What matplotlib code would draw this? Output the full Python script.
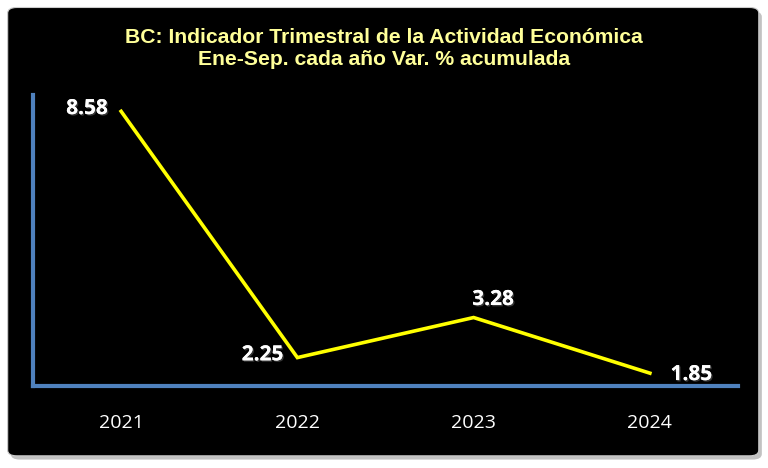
import matplotlib.pyplot as plt
import matplotlib.patheffects as pe
from matplotlib.patches import FancyBboxPatch

# -----------------------------
# Data
# -----------------------------
years = ["2021", "2022", "2023", "2024"]
values = [8.58, 2.25, 3.28, 1.85]
label_offsets = [(-24.5, 2), (-25, 2), (14, 13), (30, -1)]  # points, per label

title = "BC: Indicador Trimestral de la Actividad Económica\nEne-Sep. cada año Var. % acumulada"

# -----------------------------
# Figure + black panel
# -----------------------------
fig = plt.figure(figsize=(7.68, 4.68), dpi=100)
fig.patch.set_facecolor("white")

shadow = FancyBboxPatch((0.014, 0.018), 0.978, 0.958,
                        boxstyle="round,pad=0,rounding_size=0.012",
                        transform=fig.transFigure, facecolor="#9a9a9a",
                        edgecolor="none", alpha=0.6, zorder=0)
panel = FancyBboxPatch((0.010, 0.026), 0.978, 0.958,
                       boxstyle="round,pad=0,rounding_size=0.012",
                       transform=fig.transFigure, facecolor="black",
                       edgecolor="#cccccc", linewidth=0.8, zorder=1)
fig.patches.extend([shadow, panel])

fig.text(0.5, 0.897, title, ha="center", va="center", color="#FFFF99",
         fontsize=15.2, fontweight="bold", linespacing=1.2,
         family=["Liberation Sans", "DejaVu Sans"])

# -----------------------------
# Axes
# -----------------------------
ax = fig.add_axes([33 / 768, 1 - 386 / 468, (738 - 33) / 768, (386 - 95) / 468])
ax.set_facecolor("none")
ax.set_zorder(2)

x = list(range(len(years)))
ax.plot(x, values, color="#FFFF00", linewidth=2.6, solid_joinstyle="miter")

ax.set_xlim(-0.5, 3.5)
ax.set_ylim(1.52, 9.0)

for s in ("top", "right"):
    ax.spines[s].set_visible(False)
for s in ("left", "bottom"):
    ax.spines[s].set_color("#4F81BD")
    ax.spines[s].set_linewidth(3)

ax.set_yticks([])
ax.set_xticks(x)
ax.set_xticklabels(years, color="white", fontsize=14,
                   family=["Open Sans", "DejaVu Sans"])
ax.tick_params(axis="x", length=0, pad=20)

shadow_fx = [pe.withSimplePatchShadow(offset=(1, -1), shadow_rgbFace="#444444", alpha=0.8),
             pe.Normal()]
for xi, v, (dx, dy) in zip(x, values, label_offsets):
    ax.annotate(f"{v:.2f}", (xi, v), xytext=(dx, dy), textcoords="offset points",
                ha="center", va="center", color="white", fontsize=15,
                fontweight="bold", family=["Open Sans", "DejaVu Sans"],
                path_effects=shadow_fx)

fig.savefig("out.png", dpi=100, facecolor=fig.get_facecolor())
